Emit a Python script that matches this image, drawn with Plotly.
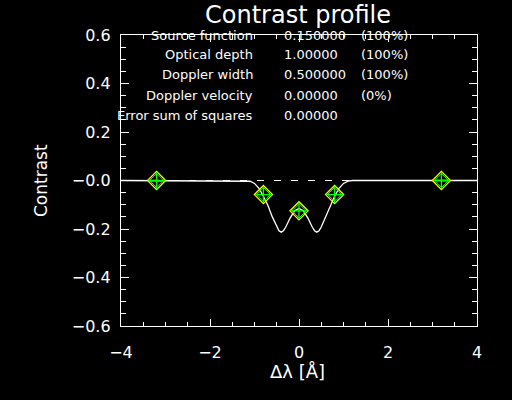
import plotly.graph_objects as go

# ---- data ----
curve_x = [-4.0, -1.2, -1.1, -1.0, -0.9, -0.8, -0.7, -0.6, -0.5, -0.45, -0.4, -0.35, -0.3, -0.2, -0.1, 0.0,
           0.1, 0.2, 0.3, 0.35, 0.4, 0.45, 0.5, 0.6, 0.7, 0.8, 0.9, 1.0, 1.1, 1.2, 4.0]
curve_y = [0.0, 0.0, -0.003, -0.012, -0.032, -0.065, -0.102, -0.150, -0.192, -0.207, -0.213, -0.207, -0.193,
           -0.155, -0.125, -0.115,
           -0.125, -0.155, -0.193, -0.207, -0.213, -0.207, -0.192, -0.150, -0.102, -0.065, -0.032, -0.012,
           -0.003, 0.0, 0.0]
ref_x = [-4.0, 4.0]
ref_y = [0.0, 0.0]
obs_x = [-3.2, -0.8, 0.0, 0.8, 3.2]
obs_y = [0.0, -0.058, -0.125, -0.058, 0.0]

ytick_vals = [-0.6, -0.4, -0.2, 0.0, 0.2, 0.4, 0.6]
ytick_text = ["−0.6", "−0.4", "−0.2", "−0.0", "0.2", "0.4", "0.6"]
xtick_vals = [-4, -2, 0, 2, 4]
xtick_text = ["−4", "−2", "0", "2", "4"]

param_names = ["Source function", "Optical depth", "Doppler width", "Doppler velocity", "Error sum of squares"]
param_values = ["0.150000", "1.00000", "0.500000", "0.00000", "0.00000"]
param_pct = ["(100%)", "(100%)", "(100%)", "(0%)", ""]

FONT = "DejaVu Sans"
W, H = 512, 400
L, R, T, B = 121, 35, 35, 74

fig = go.Figure()
fig.add_trace(go.Scatter(x=ref_x, y=ref_y, mode="lines",
                         line=dict(color="white", width=1, dash="7px,10px"), hoverinfo="skip"))
fig.add_trace(go.Scatter(x=curve_x, y=curve_y, mode="lines",
                         line=dict(color="white", width=1.3), hoverinfo="skip"))
fig.add_trace(go.Scatter(x=obs_x, y=obs_y, mode="markers",
                         marker=dict(symbol="diamond-open", size=14, color="#ffff00",
                                     line=dict(color="#ffff00", width=1.2))))
fig.add_trace(go.Scatter(x=obs_x, y=obs_y, mode="markers",
                         marker=dict(symbol="diamond-open", size=11, color="#00ff00",
                                     line=dict(color="#00ff00", width=1))))
fig.add_trace(go.Scatter(x=obs_x, y=obs_y, mode="markers",
                         marker=dict(symbol="cross-thin-open", size=12, color="#00ff00",
                                     line=dict(color="#00ff00", width=1.3))))

axis_common = dict(showline=True, linecolor="white", linewidth=1.3, mirror="ticks",
                   ticks="inside", tickcolor="white", tickwidth=1,
                   showgrid=False, zeroline=False,
                   tickfont=dict(family=FONT, size=16, color="white"))

fig.update_xaxes(range=[-4, 4], tickmode="array", tickvals=xtick_vals, ticktext=xtick_text,
                 ticklen=7, ticklabelstandoff=12,
                 minor=dict(tickmode="linear", tick0=0, dtick=0.5, ticks="inside", ticklen=4,
                            tickcolor="white", showgrid=False),
                 **axis_common)
fig.update_yaxes(range=[-0.6, 0.6], tickmode="array", tickvals=ytick_vals, ticktext=ytick_text,
                 ticklen=8, ticklabelstandoff=6,
                 minor=dict(tickmode="linear", tick0=0, dtick=0.05, ticks="inside", ticklen=5,
                            tickcolor="white", showgrid=False),
                 **axis_common)

pw, ph = W - L - R, H - T - B
def px(xp):
    return (xp - L) / pw
def py(yp):
    return (H - B - yp) / ph

ann = []
ann.append(dict(text="Contrast profile", x=px(298), y=py(15), xref="paper", yref="paper",
                xanchor="center", yanchor="middle", showarrow=False,
                font=dict(family=FONT, size=24, color="white")))
ann.append(dict(text="Δλ [Å]", x=px(297), y=py(372), xref="paper", yref="paper",
                xanchor="center", yanchor="middle", showarrow=False,
                font=dict(family=FONT, size=18, color="white")))
ann.append(dict(text="Contrast", x=px(41), y=py(181), xref="paper", yref="paper",
                xanchor="center", yanchor="middle", showarrow=False, textangle=-90,
                font=dict(family=FONT, size=17, color="white")))
row_y = [35, 55, 75, 95.5, 115.5]
for i, name in enumerate(param_names):
    ann.append(dict(text=name, x=px(255), y=py(row_y[i]), xref="paper", yref="paper",
                    xanchor="right", yanchor="middle", showarrow=False,
                    font=dict(family=FONT, size=13, color="white")))
    ann.append(dict(text=param_values[i], x=px(282), y=py(row_y[i]), xref="paper", yref="paper",
                    xanchor="left", yanchor="middle", showarrow=False,
                    font=dict(family=FONT, size=13, color="white")))
    if param_pct[i]:
        ann.append(dict(text=param_pct[i], x=px(359), y=py(row_y[i]), xref="paper", yref="paper",
                        xanchor="left", yanchor="middle", showarrow=False,
                        font=dict(family=FONT, size=13, color="white")))

fig.update_layout(width=W, height=H, margin=dict(l=L, r=R, t=T, b=B, pad=0),
                  paper_bgcolor="black", plot_bgcolor="black", showlegend=False,
                  annotations=ann, font=dict(family=FONT, color="white"))

fig.write_html("out.html", config={"displayModeBar": False},
               post_script="document.body.style.margin='0';document.body.style.background='black';")
